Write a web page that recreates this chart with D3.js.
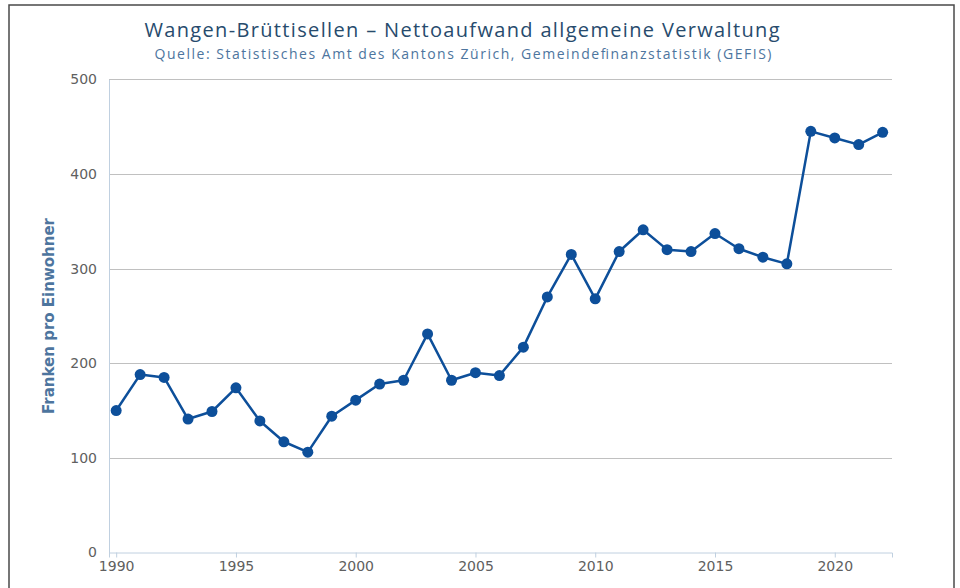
<!DOCTYPE html>
<html lang="de">

<head>
    <meta charset="utf-8">
    <script src='https://d3js.org/d3.v7.min.js'></script>
</head>

<body style="margin:0;background:#fff">

    <style>
        svg text {
            font-family: "DejaVu Sans", sans-serif;
        }
    </style>

    <script>
        // Nettoaufwand allgemeine Verwaltung, Franken pro Einwohner
        let years = [1990, 1991, 1992, 1993, 1994, 1995, 1996, 1997, 1998, 1999,
            2000, 2001, 2002, 2003, 2004, 2005, 2006, 2007, 2008, 2009,
            2010, 2011, 2012, 2013, 2014, 2015, 2016, 2017, 2018, 2019,
            2020, 2021, 2022];
        let values = [150, 188, 185, 141, 149, 174, 139, 117, 106, 144,
            161, 178, 182, 231, 182, 190, 187, 217, 270, 315,
            268, 318, 341, 320, 318, 337, 321, 312, 305, 445,
            438, 431, 444];
        let xTicks = [1990, 1995, 2000, 2005, 2010, 2015, 2020];
        let yTicks = [0, 100, 200, 300, 400, 500];

        let title = 'Wangen-Brüttisellen – Nettoaufwand allgemeine Verwaltung';
        let subtitle = 'Quelle: Statistisches Amt des Kantons Zürich, Gemeindefinanzstatistik (GEFIS)';
        let yTitle = 'Franken pro Einwohner';

        var width = 960,
            height = 588;

        var svg = d3.select("body")
            .append("svg")
            .attr("width", width)
            .attr("height", height);

        // frame
        svg.append("rect")
            .attr("x", 9)
            .attr("y", 5)
            .attr("width", 945)
            .attr("height", 600)
            .attr("fill", "none")
            .attr("stroke", "#4a4a4a")
            .attr("stroke-width", 1.5);

        var plotLeft = 109,
            plotRight = 892,
            plotTop = 79.3,
            plotBottom = 552.5;

        var x = d3.scaleLinear()
            .domain([1989.7, 2022.39])
            .range([plotLeft, plotRight]);

        var y = d3.scaleLinear()
            .domain([0, 500])
            .range([plotBottom, plotTop]);

        // grid
        svg.append("g")
            .selectAll("line")
            .data(yTicks.filter(d => d > 0))
            .enter()
            .append("line")
            .attr("x1", plotLeft)
            .attr("x2", plotRight)
            .attr("y1", d => Math.round(y(d)) + 0.5)
            .attr("y2", d => Math.round(y(d)) + 0.5)
            .attr("stroke", "#c0c0c0")
            .attr("stroke-width", 1);

        // y axis
        var yAxis = svg.append("g")
            .attr("transform", "translate(" + plotLeft + ",0)")
            .call(d3.axisLeft(y).tickValues(yTicks).tickSize(0).tickPadding(12));
        yAxis.select(".domain").attr("stroke", "#c0d0e0");
        yAxis.selectAll("text")
            .attr("fill", "#606060")
            .style("font-size", "14px");

        // x axis
        var xAxis = svg.append("g")
            .attr("transform", "translate(0," + plotBottom + ")")
            .call(d3.axisBottom(x).tickValues(xTicks).tickFormat(d3.format("d")).tickSizeOuter(0).tickSize(5).tickPadding(4));
        xAxis.select(".domain").attr("stroke", "#c0d0e0");
        xAxis.selectAll(".tick line").attr("stroke", "#c0d0e0");
        xAxis.selectAll("text")
            .attr("fill", "#606060")
            .style("font-size", "14px");

        // series
        var line = d3.line()
            .x((d, i) => x(years[i]))
            .y(d => y(d));

        svg.append("path")
            .datum(values)
            .attr("d", line)
            .attr("fill", "none")
            .attr("stroke", "#0d4f9a")
            .attr("stroke-width", 2.5)
            .attr("stroke-linejoin", "round");

        svg.append("g")
            .selectAll("circle")
            .data(values)
            .enter()
            .append("circle")
            .attr("cx", (d, i) => x(years[i]))
            .attr("cy", d => y(d))
            .attr("r", 5.5)
            .attr("fill", "#0d4f9a");

        // titles
        svg.append("text")
            .attr("x", 462)
            .attr("y", 37)
            .attr("text-anchor", "middle")
            .attr("fill", "#274b6d")
            .attr("textLength", 635)
            .attr("lengthAdjust", "spacing")
            .style("font-family", "'Open Sans', sans-serif")
            .style("font-size", "20px")
            .text(title);

        svg.append("text")
            .attr("x", 463)
            .attr("y", 59)
            .attr("text-anchor", "middle")
            .attr("fill", "#4d759e")
            .attr("textLength", 617)
            .attr("lengthAdjust", "spacing")
            .style("font-family", "'Open Sans', sans-serif")
            .style("font-size", "14px")
            .text(subtitle);

        svg.append("text")
            .attr("transform", "translate(54,316) rotate(-90)")
            .attr("text-anchor", "middle")
            .attr("fill", "#4d759e")
            .style("font-size", "15px")
            .style("font-weight", "bold")
            .text(yTitle);
    </script>
</body>

</html>
